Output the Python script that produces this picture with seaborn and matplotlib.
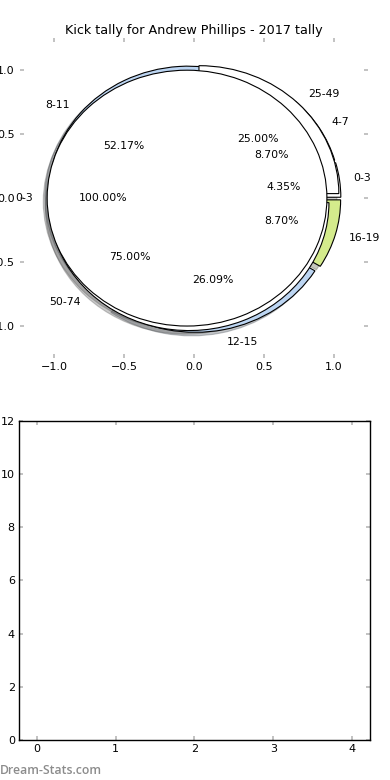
import matplotlib
matplotlib.use("Agg")
import matplotlib.pyplot as plt
import seaborn as sns

# ---- data ----
title = "Kick tally for Andrew Phillips - 2017 tally"
ring_a_labels = ["0-3"]
ring_a_values = [1]
ring_b_labels = ["25-49", "50-74"]
ring_b_values = [1, 3]
ring_c_labels = ["0-3", "4-7", "8-11", "12-15", "16-19"]
ring_c_values = [1, 2, 12, 6, 2]
bottom_xticks = [0, 1, 2, 3, 4]
bottom_yticks = [0, 2, 4, 6, 8, 10, 12]

# ---- style ----
sns.set_style("white")
plt.rcParams.update({
    "font.family": ["DejaVu Sans"],
    "font.size": 8,
    "text.color": "black",
    "xtick.direction": "in",
    "ytick.direction": "in",
    "xtick.top": True,
    "ytick.right": True,
    "xtick.bottom": True,
    "ytick.left": True,
    "xtick.color": "#b8b8b8",
    "ytick.color": "#b8b8b8",
    "xtick.labelcolor": "black",
    "ytick.labelcolor": "black",
    "xtick.major.size": 3,
    "ytick.major.size": 3,
    "xtick.major.width": 1.2,
    "ytick.major.width": 1.2,
    "xtick.major.pad": 3,
    "ytick.major.pad": 3,
    "xtick.labelsize": 8,
    "ytick.labelsize": 8,
    "axes.edgecolor": "black",
    "axes.linewidth": 1.0,
})

fig = plt.figure(figsize=(3.9, 7.8), dpi=100)

# ---- top: pies ----
ax = fig.add_axes([0.051, 0.541, 0.893, 0.410])
wp = {"edgecolor": "black", "linewidth": 0.8}
shad = {"ox": -0.02, "oy": -0.02, "alpha": 0.3}
tp = {"fontsize": 7.8, "color": "black"}
ax.pie(ring_c_values, labels=ring_c_labels, autopct="%.2f%%",
       explode=[0.05] * len(ring_c_values), shadow=shad,
       colors=["white", "white", "#bcd5f2", "#bcd5f2", "#d4eb8c"],
       wedgeprops=wp, textprops=tp, frame=True)
ax.pie(ring_b_values, labels=ring_b_labels, autopct="%.2f%%",
       explode=[0.05] * len(ring_b_values), shadow=shad,
       colors=["white", "white"],
       wedgeprops=wp, textprops=tp, frame=True)
ax.pie(ring_a_values, labels=ring_a_labels, autopct="%.2f%%",
       explode=[0.05] * len(ring_a_values), shadow=shad,
       colors=["white"],
       wedgeprops=wp, textprops=tp, frame=True)
ax.set_aspect("auto")
ax.set_xlim(-1.245, 1.245)
ax.set_ylim(-1.25, 1.25)
ax.set_xticks([-1.0, -0.5, 0.0, 0.5, 1.0])
ax.set_yticks([-1.0, -0.5, 0.0, 0.5, 1.0])
ax.set_xticklabels(["\u22121.0", "\u22120.5", "0.0", "0.5", "1.0"])
ax.set_yticklabels(["\u22121.0", "\u22120.5", "0.0", "0.5", "1.0"])
ax.tick_params(axis="y", pad=3.8)
for s in ax.spines.values():
    s.set_visible(False)
ax.set_title(title, fontsize=9.2, pad=3, color="black")

# ---- bottom: empty axes ----
ax2 = fig.add_axes([0.0487, 0.0513, 0.900, 0.409])
sns.despine(ax=ax2, top=False, right=False, left=False, bottom=False)
ax2.set_xlim(-0.23, 4.23)
ax2.set_ylim(0, 12)
ax2.set_xticks(bottom_xticks)
ax2.set_yticks(bottom_yticks)
for s in ax2.spines.values():
    s.set_visible(True)
    s.set_color("black")
    s.set_linewidth(1.0)

fig.text(0.0, 0.004, "Dream-Stats.com", color="#8c8c8c", fontsize=8.8,
         fontweight="semibold", family="Open Sans", ha="left", va="bottom")

fig.savefig("out.png", dpi=100)
